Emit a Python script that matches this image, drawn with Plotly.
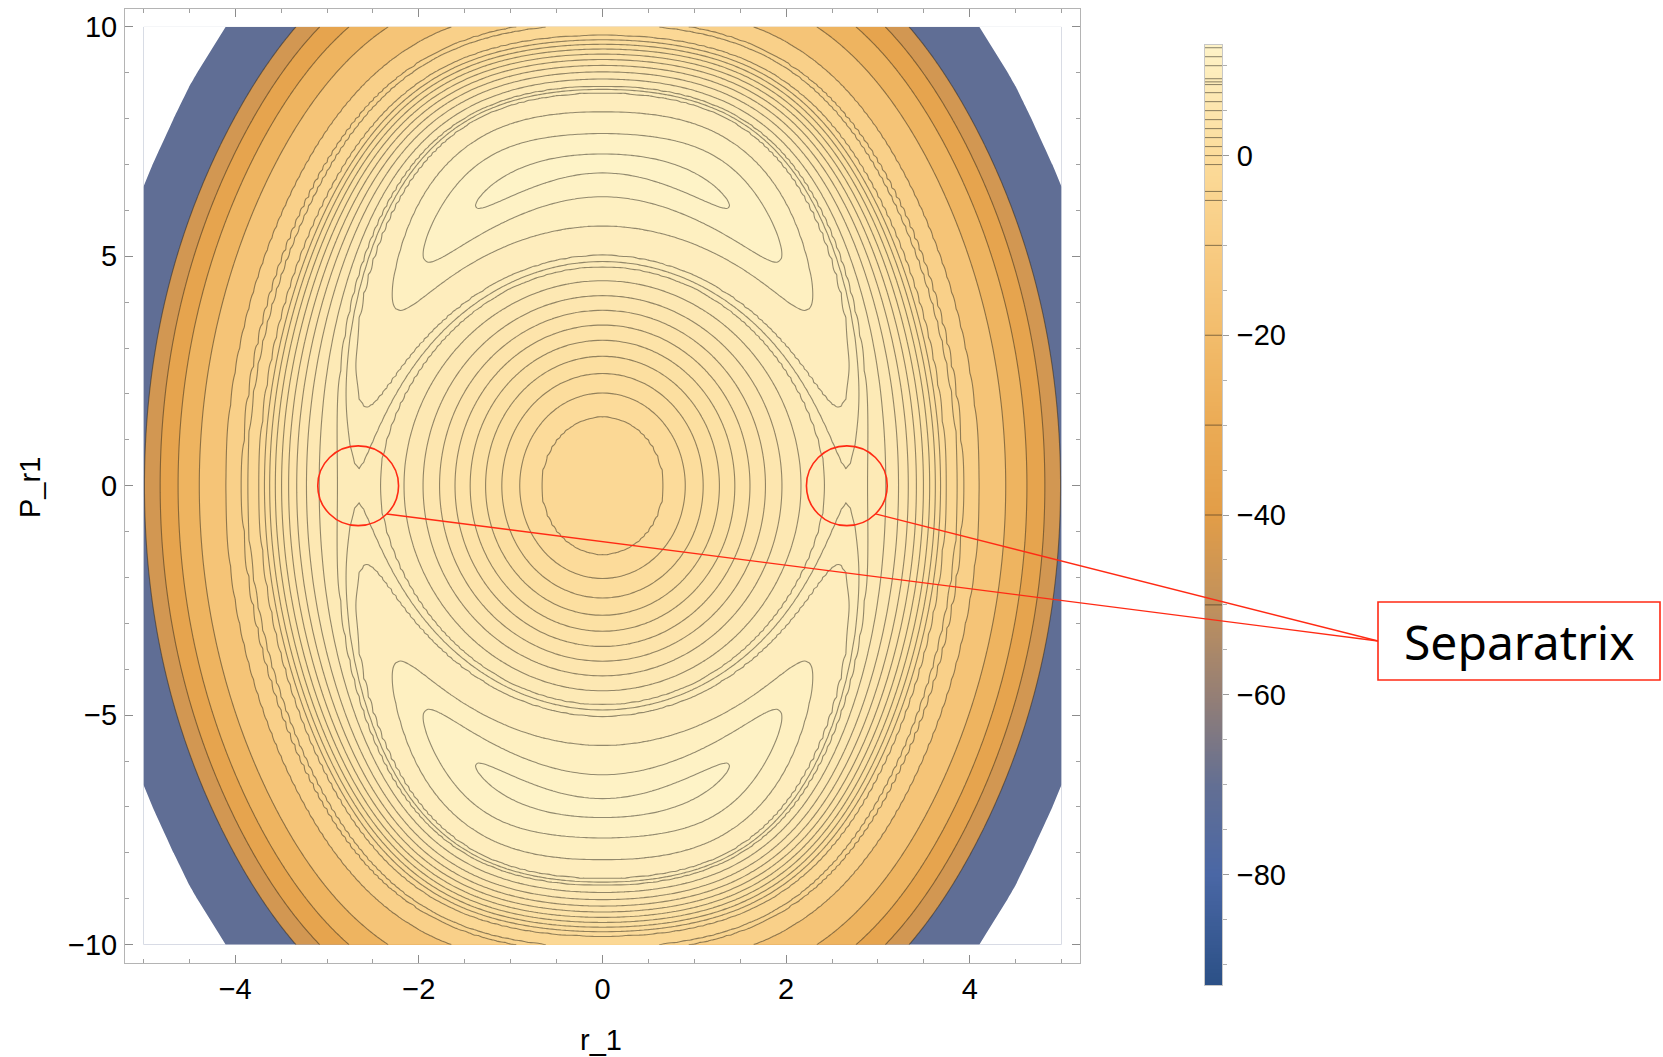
import numpy as np
import plotly.graph_objects as go

# ---------------- data ----------------
# Hamiltonian H(r, p) = H0 + S*(h(p) + k(p) r^2 - b(p) r^4 + K r^6) + ridge shaping terms
H0 = -2.3            # value at the centre (minimum)
PROFILE_SCALE = 0.98
C_P2 = 0.6
D_P4 = 0.00609
A_R2 = 3.074
E_R2P2 = 0.08227
G_R2P4 = 0.0003153
B_R4 = 0.2282
F_R4P2 = 0.001001
F_R4P4 = 8.866e-6
K_R6 = 0.001047
RIDGE_R = 2.66       # saddle distance on the r axis
RIDGE_P = 7.03       # maximum distance on the p axis
PEAK_GAMMA = 1.15
PEAK_S1 = 0.15
PEAK_S2 = 0.35
RIDGE_ETA = 3.0
RIDGE_S3 = 0.35
RIDGE_T0 = 0.03

r_limits = [-5.0, 5.0]
p_limits = [-10.0, 10.0]
contour_levels = [-50, -40, -30, -20, -10, -5, -4, -1, 0, 1, 2, 3, 4, 5, 6, 7,
                  7.9, 8.2, 8.55, 10, 11, 12]
value_min = -92.3     # lower clip (bottom of legend)
value_max = 12.3      # top of legend

x_ticks = [-4, -2, 0, 2, 4]
y_ticks = [-10, -5, 0, 5, 10]
cb_ticks = [-80, -60, -40, -20, 0]

# colour gradient of the legend (value -> colour)
grad_values = [-92.3, -80, -70, -60, -50, -40, -30, -20, -10, 0, 12.3]
grad_colors = ['#2b5086', '#4a67a5', '#636f93', '#957f75', '#c1915c', '#e29d47',
               '#ebab55', '#f2bc6b', '#f8cc83', '#fcdc9b', '#fef3c8']

label_text = "Separatrix"

# ---------------- helpers ----------------
def hex2rgb(h):
    return np.array([int(h[i:i + 2], 16) for i in (1, 3, 5)], dtype=float)

def grad(v):
    v = min(max(v, grad_values[0]), grad_values[-1])
    for i in range(len(grad_values) - 1):
        a, b = grad_values[i], grad_values[i + 1]
        if a <= v <= b:
            t = (v - a) / (b - a)
            c = hex2rgb(grad_colors[i]) * (1 - t) + hex2rgb(grad_colors[i + 1]) * t
            return 'rgb(%d,%d,%d)' % tuple(np.round(c))
    return grad_colors[-1]

def hamiltonian(r, p):
    h = C_P2 * p ** 2 - D_P4 * p ** 4
    k = A_R2 - E_R2P2 * p ** 2 + G_R2P4 * p ** 4
    b = B_R4 - F_R4P2 * p ** 2 + F_R4P4 * p ** 4
    R = r ** 2
    base = h + k * R - b * R ** 2 + K_R6 * R ** 3
    u = r / RIDGE_R
    v = p / RIDGE_P
    s = u ** 2 + v ** 2
    c = v ** 2 / (s + 1e-12)
    t = s - 1.0
    dog = np.exp(-(t / PEAK_S2) ** 2) - np.exp(-(t / PEAK_S1) ** 2)
    bump = np.exp(-((t - RIDGE_T0) / RIDGE_S3) ** 2)
    return (H0 + PROFILE_SCALE * base - PEAK_GAMMA * c * dog
            + RIDGE_ETA * c * (1 - c) * bump)

# ---------------- layout geometry (pixels) ----------------
W, Hpx = 1663, 1057
plot_l, plot_r, plot_t, plot_b = 125, 1080, 8.5, 963
cb_l, cb_r, cb_t, cb_b = 1205, 1222, 45, 985
x_range = [-5.2, 5.2]
y_range = [-10.4, 10.4]

def px2paper(x, y):
    return x / W, 1 - y / Hpx

def data2px(xv, yv):
    px = plot_l + (xv - x_range[0]) / (x_range[1] - x_range[0]) * (plot_r - plot_l)
    py = plot_b - (yv - y_range[0]) / (y_range[1] - y_range[0]) * (plot_b - plot_t)
    return px, py

# ---------------- main field ----------------
r = np.linspace(r_limits[0], r_limits[1], 201)
p = np.linspace(p_limits[0], p_limits[1], 401)
RR, PP = np.meshgrid(r, p)
Hv = hamiltonian(RR, PP)

lv = np.array(contour_levels, dtype=float)
n_lv = len(lv)
idx = np.arange(n_lv, dtype=float)
Zi = np.interp(Hv, lv, idx)
lo = Hv < lv[0]
Zi[lo] = (Hv[lo] - lv[0]) / (lv[1] - lv[0])
hi = Hv > lv[-1]
Zi[hi] = (n_lv - 1) + (Hv[hi] - lv[-1]) / (lv[-1] - lv[-2])
Zi = np.round(Zi, 4)

bounds = [value_min] + list(lv) + [value_max]
band_cols = [grad(0.5 * (bounds[j] + bounds[j + 1])) for j in range(n_lv + 1)]
cscale = []
for j, c in enumerate(band_cols):
    a = max(0.0, (j - 0.5) / n_lv)
    b = min(1.0, (j + 0.5) / n_lv)
    cscale.append([a, c])
    cscale.append([b, c])

line_col = 'rgba(40,35,25,0.5)'

fig = go.Figure()
fig.add_trace(go.Contour(
    x=r, y=p, z=Zi,
    autocontour=False,
    contours=dict(start=0, end=n_lv - 1, size=1, coloring='fill', showlines=True),
    colorscale=cscale, zauto=False, zmin=-0.5, zmax=n_lv - 0.5,
    line=dict(color=line_col, width=1.1, smoothing=1),
    showscale=False, hoverinfo='skip'))

# clipped (white) corners: values below the legend minimum, coarse sampling
rc = np.linspace(r_limits[0], r_limits[1], 21)
pc = np.linspace(p_limits[0], p_limits[1], 21)
RC, PC = np.meshgrid(rc, pc)
Zc = -hamiltonian(RC, PC)
fig.add_trace(go.Contour(
    x=rc, y=pc, z=Zc,
    autocontour=False,
    contours=dict(start=-value_min, end=-value_min, size=1, coloring='fill', showlines=False),
    colorscale=[[0, 'rgba(255,255,255,0)'], [0.5, 'rgba(255,255,255,0)'],
                [0.5, 'rgb(255,255,255)'], [1, 'rgb(255,255,255)']],
    zauto=False, zmin=-value_min - 0.5, zmax=-value_min + 0.5,
    line=dict(width=0, smoothing=0), showscale=False, hoverinfo='skip'))

# ---------------- legend bar ----------------
ycb = np.linspace(value_min, value_max, 500)
zcb = [[v, v] for v in ycb]
gscale = [[(v - value_min) / (value_max - value_min), c] for v, c in zip(grad_values, grad_colors)]
gscale[0][0] = 0.0
gscale[-1][0] = 1.0
fig.add_trace(go.Heatmap(x=[0, 1], y=ycb, z=zcb, colorscale=gscale, zmin=value_min,
                         zmax=value_max, showscale=False, xaxis='x2', yaxis='y2',
                         hoverinfo='skip'))
lx, ly = [], []
for L in contour_levels:
    lx += [0, 1, None]
    ly += [L, L, None]
fig.add_trace(go.Scatter(x=lx, y=ly, mode='lines', line=dict(color=line_col, width=1.1),
                         xaxis='x2', yaxis='y2', hoverinfo='skip', showlegend=False))

# ---------------- axes ----------------
tfont = dict(family='Liberation Sans, Arial, sans-serif', size=29, color='black')
dx0, dy0 = px2paper(plot_l, plot_b)
dx1, dy1 = px2paper(plot_r, plot_t)
cx0, cy0 = px2paper(cb_l, cb_b)
cx1, cy1 = px2paper(cb_r, cb_t)

fig.update_layout(
    width=W, height=Hpx, margin=dict(l=0, r=0, t=0, b=0),
    paper_bgcolor='white', plot_bgcolor='white', showlegend=False,
    xaxis=dict(domain=[dx0, dx1], range=x_range, tickvals=x_ticks, ticks='inside',
               ticklen=8, tickcolor='#8c8c8c', showline=True, linecolor='#b4b4b4',
               linewidth=1, mirror='allticks', showgrid=False, zeroline=False,
               tickfont=tfont, ticklabelstandoff=0,
               minor=dict(dtick=0.5, ticks='inside', ticklen=4, tickcolor='#a0a0a0')),
    yaxis=dict(domain=[dy0, dy1], range=y_range, tickvals=y_ticks, ticks='inside',
               ticklen=8, tickcolor='#8c8c8c', showline=True, linecolor='#b4b4b4',
               linewidth=1, mirror='allticks', showgrid=False, zeroline=False,
               tickfont=tfont, ticklabelstandoff=1,
               minor=dict(dtick=1, ticks='inside', ticklen=4, tickcolor='#a0a0a0')),
    xaxis2=dict(domain=[cx0, cx1], range=[0, 1], anchor='y2', showticklabels=False,
                ticks='', showline=True, linecolor='#c8c8c8', mirror=True,
                showgrid=False, zeroline=False),
    yaxis2=dict(domain=[cy0, cy1], range=[value_min, value_max], anchor='x2', side='right',
                tickvals=cb_ticks, ticks='outside', ticklen=6, tickcolor='#9a9a9a',
                showline=True, linecolor='#c8c8c8', mirror=True, showgrid=False,
                zeroline=False, tickfont=tfont, ticklabelstandoff=2,
                minor=dict(dtick=5, ticks='outside', ticklen=4, tickcolor='#b0b0b0')),
)

# axis titles
ax_x, ax_y = px2paper(601, 1040)
fig.add_annotation(text='r_1', x=ax_x, y=ax_y, xref='paper', yref='paper',
                   showarrow=False, font=tfont, xanchor='center', yanchor='middle')
ay_x, ay_y = px2paper(30, 488)
fig.add_annotation(text='P_r1', x=ay_x, y=ay_y, xref='paper', yref='paper',
                   showarrow=False, font=tfont, textangle=-90, xanchor='center',
                   yanchor='middle')

# ---------------- separatrix markers ----------------
red = '#ff2a14'
R_s = (2 * B_R4 - np.sqrt(4 * B_R4 ** 2 - 12 * A_R2 * K_R6)) / (6 * K_R6)
r_s = float(np.sqrt(R_s))
circ_rx, circ_ry = 0.44, 0.87
box_l, box_r, box_t, box_b = 1378, 1660, 602, 680
end_x, end_y = px2paper(box_l, 0.5 * (box_t + box_b))
for sgn in (-1, 1):
    xc = sgn * r_s
    fig.add_shape(type='circle', xref='x', yref='y', x0=xc - circ_rx, x1=xc + circ_rx,
                  y0=-circ_ry, y1=circ_ry, line=dict(color=red, width=1.6))
    sx, sy = data2px(xc + circ_rx * np.cos(np.pi / 4), -circ_ry * np.sin(np.pi / 4))
    sx, sy = px2paper(sx, sy)
    fig.add_shape(type='line', xref='paper', yref='paper', x0=sx, y0=sy, x1=end_x, y1=end_y,
                  line=dict(color=red, width=1.3))

bx0, by0 = px2paper(box_l, box_b)
bx1, by1 = px2paper(box_r, box_t)
fig.add_shape(type='rect', xref='paper', yref='paper', x0=bx0, x1=bx1, y0=by0, y1=by1,
              line=dict(color=red, width=1.6), fillcolor='white')
tx, ty = px2paper(0.5 * (box_l + box_r), 0.5 * (box_t + box_b))
fig.add_annotation(text=label_text, x=tx, y=ty, xref='paper', yref='paper', showarrow=False,
                   font=dict(family='Noto Sans, sans-serif', size=48, color='black'),
                   xanchor='center', yanchor='middle')

fig.write_html("out.html")
